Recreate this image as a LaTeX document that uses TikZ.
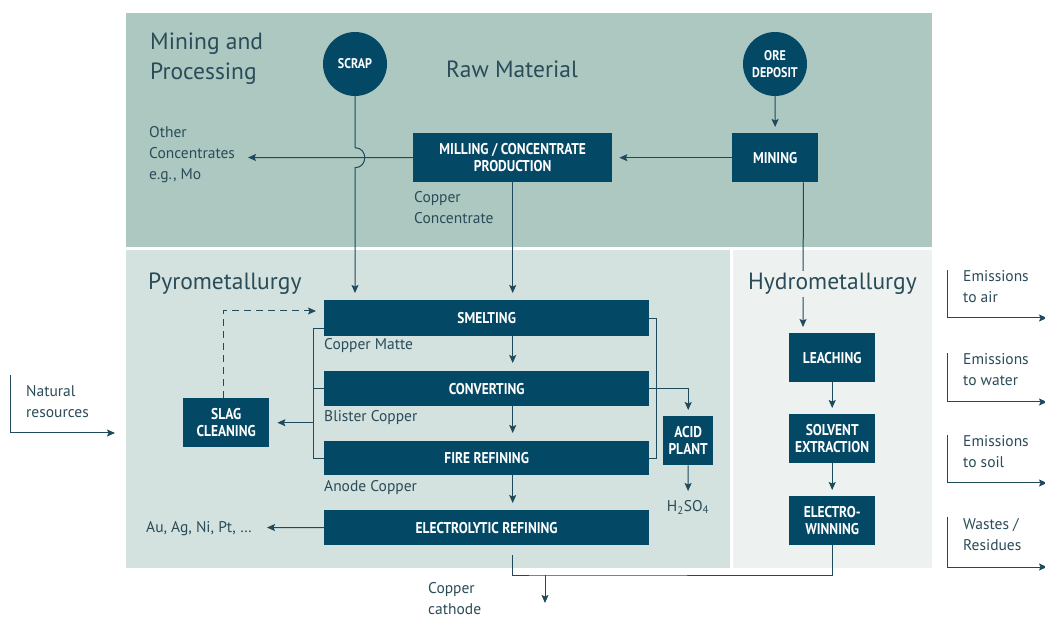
\documentclass[tikz,border=0pt]{standalone}
\usepackage{fontspec}
\setmainfont{PT Sans}
\newfontfamily\stepfont{PT Sans}[FakeStretch=0.86]
\usetikzlibrary{arrows.meta,calc}

\definecolor{bandtop}{HTML}{ADC8C1}
\definecolor{bandpyro}{HTML}{D3E1DF}
\definecolor{bandhydro}{HTML}{EDF2F1}
\definecolor{stepblue}{HTML}{034966}
\definecolor{flow}{HTML}{1E4A5C}
\definecolor{ink}{HTML}{2A4C58}

\begin{document}
\begin{tikzpicture}[x=1pt,y=-1pt,
  stepbox/.style={fill=stepblue,text=white,inner sep=0pt,align=center,anchor=north west,
    font=\stepfont\bfseries\fontsize{15.6}{16.5}\selectfont},
  source/.style={circle,fill=stepblue,text=white,inner sep=0pt,minimum size=64pt,align=center,
    font=\stepfont\bfseries\fontsize{14}{17}\selectfont},
  txt/.style={text=ink,inner sep=0pt,anchor=north west,align=left,
    font=\fontsize{15.5}{21}\selectfont},
  title/.style={text=ink,inner sep=0pt,anchor=north west,align=left,
    font=\fontsize{23.5}{30}\selectfont},
  flowline/.style={draw=flow,line width=1pt},
  arr/.style={flowline,-{Stealth[length=8pt,width=7pt,inset=1.5pt]}},
]
\useasboundingbox (0,0) rectangle (1045,617);
\fill[white] (0,0) rectangle (1045,617);

% stage bands
\fill[bandtop]   (126,13)  rectangle (932,247);
\fill[bandpyro]  (126,250) rectangle (730,568);
\fill[bandhydro] (733,250) rectangle (932,568);

% band titles
\node[title] (t-mining) at (150,33) {Mining and\\Processing};
\node[title] (t-raw) at (446,61) {Raw Material};
\node[title] (t-pyro) at (148,273) {Pyrometallurgy};

% raw material sources
\node[source] (scrap) at (355,64) {SCRAP};
\node[source] (ore) at (775,64) {ORE\\DEPOSIT};

% process steps
\node[stepbox,minimum width=199pt,minimum height=49pt] (mill) at (413,133) {MILLING / CONCENTRATE\\PRODUCTION};
\node[stepbox,minimum width=86pt,minimum height=49pt] (mine) at (732,133) {MINING};
\node[stepbox,minimum width=325pt,minimum height=36pt] (smelt) at (324,300) {SMELTING};
\node[stepbox,minimum width=325pt,minimum height=35pt] (conv) at (324,371) {CONVERTING};
\node[stepbox,minimum width=325pt,minimum height=34pt] (fire) at (324,441) {FIRE REFINING};
\node[stepbox,minimum width=325pt,minimum height=35pt] (elec) at (324,510) {ELECTROLYTIC REFINING};
\node[stepbox,minimum width=86pt,minimum height=49pt] (slag) at (183,398) {SLAG\\CLEANING};
\node[stepbox,minimum width=50pt,minimum height=49pt] (acid) at (663,416) {ACID\\PLANT};
\node[stepbox,minimum width=86pt,minimum height=49pt] (leach) at (789,333) {LEACHING};
\node[stepbox,minimum width=86pt,minimum height=49pt] (solv) at (789,414) {SOLVENT\\EXTRACTION};
\node[stepbox,minimum width=86pt,minimum height=49pt] (ew) at (789,496) {ELECTRO-\\WINNING};

% flow labels
\node[txt] (others) at (149,126) {Other\\Concentrates\\e.g., Mo};
\node[txt] (cuconc) at (414,191) {Copper\\Concentrate};
\node[txt] (matte) at (324,338) {Copper Matte};
\node[txt] (blister) at (324,410) {Blister Copper};
\node[txt] (anode) at (324,480) {Anode Copper};
\node[txt] (natural) at (26,385) {Natural\\resources};
\node[txt] (precious) at (146,521) {Au, Ag, Ni, Pt, …};
\node[txt] (cathode) at (428,582) {Copper\\cathode};
\node[txt,anchor=north] (acid-out) at (688,500) {H\textsubscript{2}SO\textsubscript{4}};
\node[txt] (air) at (963,270) {Emissions\\to air};
\node[txt] (water) at (963,353) {Emissions\\to water};
\node[txt] (soil) at (963,435) {Emissions\\to soil};
\node[txt] (waste) at (963,518) {Wastes /\\Residues};

% free ends
\coordinate (othersin) at (248,157.5);
\coordinate (preciousin) at (267,527.5);
\coordinate (cujoin) at (545,575);
\coordinate (cuout) at (545,603);

% mining and processing
\draw[arr,shorten >=6pt] (ore) -- (mine);
\draw[arr,shorten >=7pt] (mine.west) -- (mill.east);
\draw[arr] (mill.west) -- (othersin);
\draw[arr,shorten >=7pt] (scrap.south) -- ($(scrap.south |- mill.west)+(0,-10)$)
  .. controls +(13,0) and +(13,0) .. ($(scrap.south |- mill.west)+(0,10)$)
  -- (scrap.south |- smelt.north);
\draw[arr,shorten >=7pt] (mill.south) -- (mill.south |- smelt.north);

% pyrometallurgy chain
\draw[arr,shorten >=8pt] (smelt.south -| mill.south) -- (conv.north -| mill.south);
\draw[arr,shorten >=8pt] (conv.south -| mill.south) -- (fire.north -| mill.south);
\draw[arr,shorten >=7pt] (fire.south -| mill.south) -- (elec.north -| mill.south);

% slag collection
\draw[flowline] ($(smelt.south west)+(0,-8)$) -- ++(-11,0) |- (fire.west);
\draw[flowline] (conv.west) -- ++(-11,0);
\draw[arr,shorten >=8pt] ($(slag.east)+(44,0)$) -- (slag.east);
\draw[arr,dashed,dash pattern=on 7pt off 5pt,shorten >=8pt] ($(slag.north)+(-3,0)$) |- ($(smelt.north west)+(0,11)$);

% off-gas to acid plant
\draw[flowline] (smelt.east) -- ++(7,0) |- (fire.east);
\draw[arr,shorten >=6pt] (conv.east) -| (acid.north);
\draw[arr,shorten >=9pt] (acid.south) -- (acid-out.north);

% by-products and cathode
\draw[arr] (elec.west) -- (preciousin);
\draw[flowline] ($(elec.south -| mill.south)+(0,10)$) |- (cujoin) -| (ew.south);
\draw[arr] (cujoin) -- (cuout);

% hydrometallurgy chain
\draw[arr] ($(mine.south east)+(-15,0)$) -- ($(leach.north west)+(14,-6)$);
\draw[arr,shorten >=6pt] (leach) -- (solv);
\draw[arr,shorten >=6pt] (solv) -- (ew);
\node[title,fill=bandhydro,inner sep=2pt] (t-hydro) at (746,271) {Hydrometallurgy};

% inputs and outputs
\draw[arr] ($(natural.north west)+(-16,-10)$) |- ++(105,58);
\draw[arr] ($(air.north west)+(-16,0)$) |- ++(100,48);
\draw[arr] ($(water.north west)+(-16,0)$) |- ++(100,49);
\draw[arr] ($(soil.north west)+(-16,0)$) |- ++(100,48);
\draw[arr] ($(waste.north west)+(-16,-1)$) |- ++(100,50);
\end{tikzpicture}
\end{document}
